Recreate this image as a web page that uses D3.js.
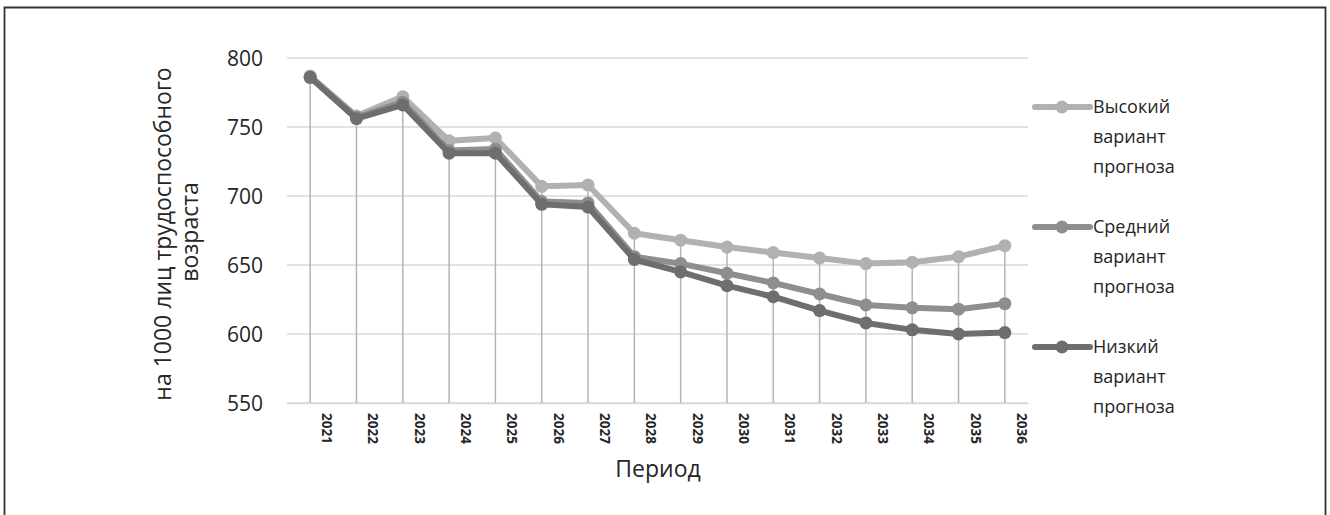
<!DOCTYPE html>
<html>
<head>
<meta charset="utf-8">
<script src="https://cdn.jsdelivr.net/npm/d3@7"></script>
<style>
  body { margin: 0; background: #fff; }
  svg text { font-family: "Open Sans", "Noto Sans", sans-serif; fill: #262626; }
</style>
</head>
<body>
<div id="chart"></div>
<script>
// data
var years = ["2021","2022","2023","2024","2025","2026","2027","2028","2029","2030","2031","2032","2033","2034","2035","2036"];
var highValues = [787, 758, 772, 740, 742, 707, 708, 673, 668, 663, 659, 655, 651, 652, 656, 664];
var midValues  = [786, 757, 768, 733, 734, 696, 695, 656, 651, 644, 637, 629, 621, 619, 618, 622];
var lowValues  = [786, 756, 766, 731, 731, 694, 692, 654, 645, 635, 627, 617, 608, 603, 600, 601];
var yTicks = [550, 600, 650, 700, 750, 800];
var seriesNames = [["Высокий", "вариант", "прогноза"], ["Средний", "вариант", "прогноза"], ["Низкий", "вариант", "прогноза"]];
var seriesColors = ["#b1b1b4", "#8e8e91", "#6e6e71"];

var svgWidth = 1330, svgHeight = 515;
var plot = { left: 287, right: 1028, top: 58, bottom: 403 };

var svg = d3.select("#chart").append("svg")
  .attr("width", svgWidth)
  .attr("height", svgHeight);

// outer frame (no bottom edge visible)
svg.append("path")
  .attr("d", "M4.5,515 L4.5,7.5 L1325.5,7.5 L1325.5,515")
  .attr("fill", "none")
  .attr("stroke", "#333")
  .attr("stroke-width", 1.8);

var xScale = d3.scaleBand()
  .domain(years)
  .range([plot.left, plot.right]);

var yScale = d3.scaleLinear()
  .domain([550, 800])
  .range([plot.bottom, plot.top]);

var xc = d => xScale(d) + xScale.bandwidth() / 2;

// horizontal grid lines
svg.append("g").selectAll("line")
  .data(yTicks)
  .enter()
  .append("line")
  .attr("x1", plot.left)
  .attr("x2", plot.right)
  .attr("y1", d => yScale(d))
  .attr("y2", d => yScale(d))
  .attr("stroke", "#d9d9d9")
  .attr("stroke-width", 1.3);

// y tick labels
var yAxis = d3.axisLeft(yScale).tickValues(yTicks).tickSize(0).tickPadding(0);
var yg = svg.append("g")
  .attr("transform", "translate(263,0)")
  .call(yAxis);
yg.select(".domain").remove();
yg.selectAll("text")
  .attr("font-size", "21px")
  .attr("font-family", "'Open Sans', sans-serif")
  .attr("fill", "#262626")
  .attr("dy", "0.35em");

// drop lines from highest point to axis
var series = [highValues, midValues, lowValues];
svg.append("g").selectAll("line")
  .data(years)
  .enter()
  .append("line")
  .attr("x1", d => xc(d))
  .attr("x2", d => xc(d))
  .attr("y1", (d, i) => yScale(d3.max(series, s => s[i])))
  .attr("y2", plot.bottom)
  .attr("stroke", "#b4b4b7")
  .attr("stroke-width", 1.5);

// x axis
var xAxis = d3.axisBottom(xScale).tickSize(0).tickPadding(0);
var xg = svg.append("g")
  .attr("transform", `translate(0, ${plot.bottom})`)
  .call(xAxis);
xg.select(".domain")
  .attr("stroke", "#d9d9d9")
  .attr("stroke-width", 1.5);
xg.selectAll("text")
  .attr("font-size", "13.5px")
  .attr("font-weight", "bold")
  .attr("font-family", "'Open Sans', sans-serif")
  .attr("fill", "#1a1a1a")
  .attr("text-anchor", "start")
  .attr("y", 0)
  .attr("dy", 0)
  .attr("transform", "translate(12,10) rotate(90)");

// series lines, high first so low is on top
var line = d3.line()
  .x((d, i) => xc(years[i]))
  .y(d => yScale(d));

series.forEach(function(values, k) {
  svg.append("path")
    .datum(values)
    .attr("d", line)
    .attr("fill", "none")
    .attr("stroke", seriesColors[k])
    .attr("stroke-width", 6)
    .attr("stroke-linejoin", "round");
  svg.append("g").selectAll("circle")
    .data(values)
    .enter()
    .append("circle")
    .attr("cx", (d, i) => xc(years[i]))
    .attr("cy", d => yScale(d))
    .attr("r", 6.5)
    .attr("fill", seriesColors[k]);
});

// axis titles
svg.append("text")
  .attr("transform", "translate(171,234) rotate(-90)")
  .attr("text-anchor", "middle")
  .attr("font-size", "23px")
  .text("на 1000 лиц трудоспособного");
svg.append("text")
  .attr("transform", "translate(198,232) rotate(-90)")
  .attr("text-anchor", "middle")
  .attr("font-size", "23px")
  .text("возраста");

svg.append("text")
  .attr("x", 658)
  .attr("y", 477)
  .attr("text-anchor", "middle")
  .attr("font-size", "23px")
  .text("Период");

// legend
seriesNames.forEach(function(lines, k) {
  var ly = 107 + k * 120;
  var g = svg.append("g");
  g.append("line")
    .attr("x1", 1035).attr("x2", 1090)
    .attr("y1", ly).attr("y2", ly)
    .attr("stroke", seriesColors[k])
    .attr("stroke-width", 6)
    .attr("stroke-linecap", "round");
  g.append("circle")
    .attr("cx", 1062).attr("cy", ly)
    .attr("r", 6.5)
    .attr("fill", seriesColors[k]);
  lines.forEach(function(t, j) {
    g.append("text")
      .attr("x", 1093)
      .attr("y", ly + j * 30)
      .attr("dy", "0.35em")
      .attr("font-size", "18px")
      .text(t);
  });
});
</script>
</body>
</html>
